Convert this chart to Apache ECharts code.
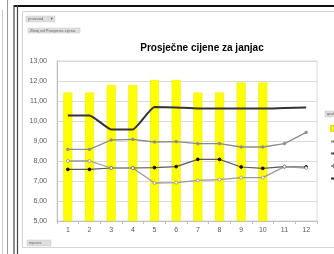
<!DOCTYPE html>
<html>
<head>
<meta charset="utf-8">
<script src="https://cdn.jsdelivr.net/npm/echarts@6/dist/echarts.min.js"></script>
<style>
  html, body { margin: 0; padding: 0; background: #fff; }
  #chart { width: 334px; height: 254px; }
</style>
</head>
<body>
<div id="chart"></div>
<script>
const months = ['1', '2', '3', '4', '5', '6', '7', '8', '9', '10', '11', '12']
const seriesNames = ['2012', '2008', '2009', '2010', '2011']
const barValues = [11.42, 11.42, 11.8, 11.8, 12.05, 12.05, 11.42, 11.42, 11.93, 11.93, null, null]
const upperGray = [8.58, 8.58, 9.05, 9.08, 8.95, 8.97, 8.87, 8.87, 8.7, 8.7, 8.87, 9.43]
const blackDots = [7.58, 7.58, 7.65, 7.65, 7.67, 7.72, 8.08, 8.08, 7.7, 7.63, 7.72, 7.7]
const lowerGray = [8.0, 8.0, 7.65, 7.65, 6.9, 6.92, 7.03, 7.07, 7.17, 7.17, 7.72, 7.65]
const blackLine = [10.28, 10.28, 9.58, 9.58, 10.7, 10.68, 10.63, 10.63, 10.62, 10.62, 10.65, 10.67]

// mala siva "pivot" dugmad
const button = (x, y, w, h, text) => ({
  type: 'group',
  children: [
    { type: 'rect', shape: { x: x, y: y, width: w, height: h }, style: { fill: '#dedede', stroke: '#c8c8c8', lineWidth: 0.5 } },
    { type: 'text', style: { x: x + 2, y: y + h / 2, text: text, fill: '#666', fontSize: 4, verticalAlign: 'middle', fontFamily: 'Liberation Sans' } }
  ]
})

const option = {
  animation: false,
  textStyle: { fontFamily: 'Liberation Sans' },
  title: {
    text: 'Prosječne cijene za janjac',
    left: 197,
    top: 38,
    textAlign: 'center',
    textStyle: { fontSize: 10, fontWeight: 'bold', color: '#000', fontFamily: 'Liberation Sans' }
  },
  graphic: [
    // okvir lista
    { type: 'line', shape: { x1: 14, y1: 6, x2: 334, y2: 6 }, style: { stroke: '#111', lineWidth: 2 } },
    { type: 'line', shape: { x1: 2.5, y1: 10, x2: 2.5, y2: 254 }, style: { stroke: '#ccc', lineWidth: 1 } },
    { type: 'line', shape: { x1: 7.5, y1: 0, x2: 7.5, y2: 254 }, style: { stroke: '#999', lineWidth: 1 } },
    { type: 'line', shape: { x1: 14, y1: 5, x2: 14, y2: 254 }, style: { stroke: '#444', lineWidth: 1.2 } },
    { type: 'line', shape: { x1: 17.5, y1: 5, x2: 17.5, y2: 254 }, style: { stroke: '#444', lineWidth: 1.2 } },
    { type: 'rect', shape: { x: 22.5, y: 11.5, width: 330, height: 236 }, style: { fill: 'none', stroke: '#d4d4d4', lineWidth: 1 } },
    button(26, 16, 29, 6, 'proizvod      ▼'),
    button(28, 28, 52, 5, 'Zbroj od Prosjecna cijena'),
    button(27, 240, 24, 6, 'mjesec'),
    button(325, 111, 20, 6, 'godina')
  ],
  legend: {
    orient: 'vertical',
    left: 325,
    top: 120,
    itemWidth: 9,
    itemHeight: 5,
    itemGap: 7,
    textStyle: { fontSize: 5, color: '#444' },
    data: [{ name: seriesNames[0], icon: 'rect' }, seriesNames[1], seriesNames[2], seriesNames[3], seriesNames[4]]
  },
  grid: { left: 57, right: 17, top: 61, bottom: 33, show: true, borderColor: '#d9d9d9', borderWidth: 1 },
  xAxis: {
    type: 'category',
    data: months,
    axisLine: { lineStyle: { color: '#bfbfbf' } },
    axisTick: { show: true, length: 3, lineStyle: { color: '#bfbfbf' } },
    axisLabel: { fontSize: 7, color: '#595959', margin: 6 }
  },
  yAxis: {
    type: 'value',
    min: 5,
    max: 13,
    interval: 1,
    axisLine: { show: true, lineStyle: { color: '#bfbfbf' } },
    axisLabel: { fontSize: 7, color: '#595959', margin: 10, formatter: (v) => v.toFixed(2).replace('.', ',') },
    splitLine: { lineStyle: { color: '#d9d9d9' } }
  },
  series: [
    {
      name: seriesNames[0],
      type: 'bar',
      data: barValues,
      barWidth: 9,
      itemStyle: { color: '#ffff00', borderColor: '#e8e800', borderWidth: 0.5 }
    },
    {
      name: seriesNames[1],
      type: 'line',
      data: upperGray,
      symbol: 'circle',
      symbolSize: 2.5,
      lineStyle: { color: '#8c8c8c', width: 1.3 },
      itemStyle: { color: '#8c8c8c', borderColor: '#8c8c8c' }
    },
    {
      name: seriesNames[2],
      type: 'line',
      data: blackDots,
      symbol: 'circle',
      symbolSize: 2.8,
      lineStyle: { color: '#5a5a5a', width: 1.2 },
      itemStyle: { color: '#111', borderColor: '#111' }
    },
    {
      name: seriesNames[3],
      type: 'line',
      data: lowerGray,
      symbol: 'circle',
      symbolSize: 3,
      lineStyle: { color: '#999', width: 1.3 },
      itemStyle: { color: '#fff', borderColor: '#888', borderWidth: 0.7 }
    },
    {
      name: seriesNames[4],
      type: 'line',
      data: blackLine,
      symbol: 'none',
      smooth: 0.15,
      lineStyle: { color: '#333', width: 2 },
      itemStyle: { color: '#333' }
    }
  ]
}

const myChart = echarts.init(document.getElementById('chart'))
option && myChart.setOption(option)
</script>
</body>
</html>
